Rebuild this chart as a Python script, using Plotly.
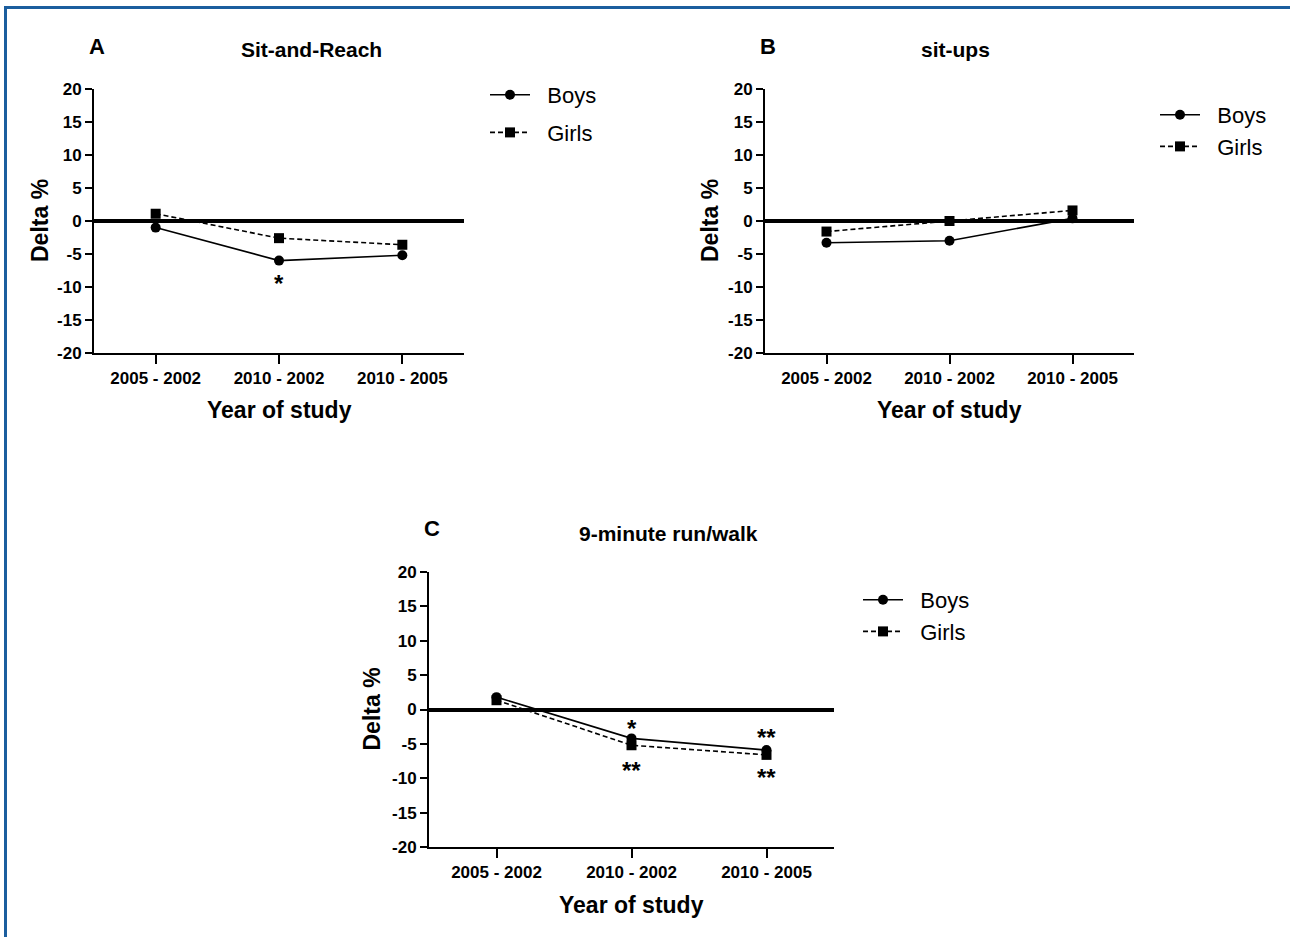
import plotly.graph_objects as go

W, H = 1290, 937

categories = ["2005 - 2002", "2010 - 2002", "2010 - 2005"]
y_ticks = [-20, -15, -10, -5, 0, 5, 10, 15, 20]
y_tick_labels = ["-20", "-15", "-10", "-5", "0", "5", "10", "15", "20"]
series_names = ["Boys", "Girls"]

# Panel A: Sit-and-Reach
a_boys = [-1.0, -6.0, -5.2]
a_girls = [1.1, -2.6, -3.6]
# Panel B: sit-ups
b_boys = [-3.3, -3.0, 0.4]
b_girls = [-1.6, 0.0, 1.6]
# Panel C: 9-minute run/walk
c_boys = [1.8, -4.2, -5.9]
c_girls = [1.35, -5.2, -6.6]

# significance markers: (category, y, label)
a_sig = [("2010 - 2002", -9.0, "*")]
c_sig = [("2010 - 2002", -2.3, "*"), ("2010 - 2002", -8.5, "**"),
         ("2010 - 2005", -3.7, "**"), ("2010 - 2005", -9.4, "**")]

panels = [
    dict(letter="A", title="Sit-and-Reach", boys=a_boys, girls=a_girls, sig=a_sig,
         xd=(94, 464), yd=(89, 353), leg=(485, 74), leggap=6,
         letter_pos=(97, 46), title_pos=(311, 50), ytitle_x=40, xtitle_y=410),
    dict(letter="B", title="sit-ups", boys=b_boys, girls=b_girls, sig=[],
         xd=(765, 1134), yd=(89, 353), leg=(1155, 94), leggap=0,
         letter_pos=(768, 46), title_pos=(955, 50), ytitle_x=710, xtitle_y=410),
    dict(letter="C", title="9-minute run/walk", boys=c_boys, girls=c_girls, sig=c_sig,
         xd=(429, 834), yd=(572, 847), leg=(858, 579), leggap=0,
         letter_pos=(432, 528), title_pos=(668, 533), ytitle_x=371, xtitle_y=905),
]


def px(x):
    return x / W


def py(y):
    return 1 - y / H


FONT = "Liberation Sans, Arial, sans-serif"
PAD = "\u00a0\u00a0"
fig = go.Figure()
annotations = []
shapes = []

for i, p in enumerate(panels):
    n = "" if i == 0 else str(i + 1)
    xa, ya = "x" + n, "y" + n
    lg = "legend" + n
    fig.add_trace(go.Scatter(
        x=categories, y=p["boys"], name=PAD + series_names[0], mode="lines+markers",
        line=dict(color="black", width=1.6),
        marker=dict(symbol="circle", size=10, color="black"),
        xaxis=xa, yaxis=ya, legend=lg, legendgroup="boys" + n))
    fig.add_trace(go.Scatter(
        x=categories, y=p["girls"], name=PAD + series_names[1], mode="lines+markers",
        line=dict(color="black", width=1.6, dash="5px,3px"),
        marker=dict(symbol="square", size=10, color="black"),
        xaxis=xa, yaxis=ya, legend=lg, legendgroup="girls" + n))

    axis_common = dict(showline=True, linecolor="black", linewidth=2,
                       ticks="outside", tickcolor="black", tickwidth=2,
                       showgrid=False, mirror=False, automargin=False)
    fig.layout["xaxis" + n] = dict(
        axis_common, domain=[px(p["xd"][0]), px(p["xd"][1])],
        anchor=ya, type="category", range=[-0.5, 2.5], ticklen=9, zeroline=False,
        categoryorder="array", categoryarray=categories,
        tickfont=dict(family=FONT, size=17, color="black", weight="bold"))
    fig.layout["yaxis" + n] = dict(
        axis_common, domain=[py(p["yd"][1]), py(p["yd"][0])],
        anchor=xa, range=[-20, 20], tickvals=y_ticks, ticktext=y_tick_labels, ticklen=7,
        zeroline=True, zerolinecolor="black", zerolinewidth=3.5,
        tickfont=dict(family=FONT, size=17, color="black", weight="bold"))

    fig.layout[lg] = dict(
        x=px(p["leg"][0]), y=py(p["leg"][1]), xanchor="left", yanchor="top",
        bgcolor="rgba(0,0,0,0)", tracegroupgap=p["leggap"], itemwidth=40,
        font=dict(family=FONT, size=22, color="black"))

    annotations.append(dict(text="<b>%s</b>" % p["letter"], x=px(p["letter_pos"][0]),
                            y=py(p["letter_pos"][1]), xref="paper", yref="paper",
                            xanchor="center", yanchor="middle",
                            showarrow=False, font=dict(family=FONT, size=22, color="black")))
    annotations.append(dict(text="<b>%s</b>" % p["title"], x=px(p["title_pos"][0]),
                            y=py(p["title_pos"][1]), xref="paper", yref="paper",
                            xanchor="center", yanchor="middle",
                            showarrow=False, font=dict(family=FONT, size=21, color="black")))
    annotations.append(dict(text="<b>Delta %</b>", x=px(p["ytitle_x"]),
                            y=(py(p["yd"][0]) + py(p["yd"][1])) / 2, xref="paper", yref="paper",
                            xanchor="center", yanchor="middle",
                            textangle=-90, showarrow=False,
                            font=dict(family=FONT, size=23, color="black")))
    annotations.append(dict(text="<b>Year of study</b>", x=(px(p["xd"][0]) + px(p["xd"][1])) / 2,
                            y=py(p["xtitle_y"]), xref="paper", yref="paper",
                            xanchor="center", yanchor="middle",
                            showarrow=False, font=dict(family=FONT, size=23, color="black")))
    for cat, yv, lab in p["sig"]:
        annotations.append(dict(text="<b>%s</b>" % lab, x=cat, y=yv, xref=xa, yref=ya,
                                xanchor="center", yanchor="middle", yshift=-3,
                                showarrow=False, font=dict(family=FONT, size=24, color="black")))

# blue frame (left and top edges)
shapes.append(dict(type="line", xref="paper", yref="paper", x0=px(5.5), x1=px(5.5),
                   y0=0, y1=py(6), line=dict(color="#1b5e9e", width=3)))
shapes.append(dict(type="line", xref="paper", yref="paper", x0=px(4), x1=1.0,
                   y0=py(7.5), y1=py(7.5), line=dict(color="#1b5e9e", width=3)))

fig.update_layout(
    width=W, height=H, margin=dict(l=0, r=0, t=0, b=0, autoexpand=False),
    paper_bgcolor="white", plot_bgcolor="white",
    annotations=annotations, shapes=shapes, showlegend=True,
    font=dict(family=FONT, color="black"),
)

fig.write_html("out.html", config={"displayModeBar": False},
               post_script="document.body.style.margin='0';document.body.style.overflow='hidden';")
